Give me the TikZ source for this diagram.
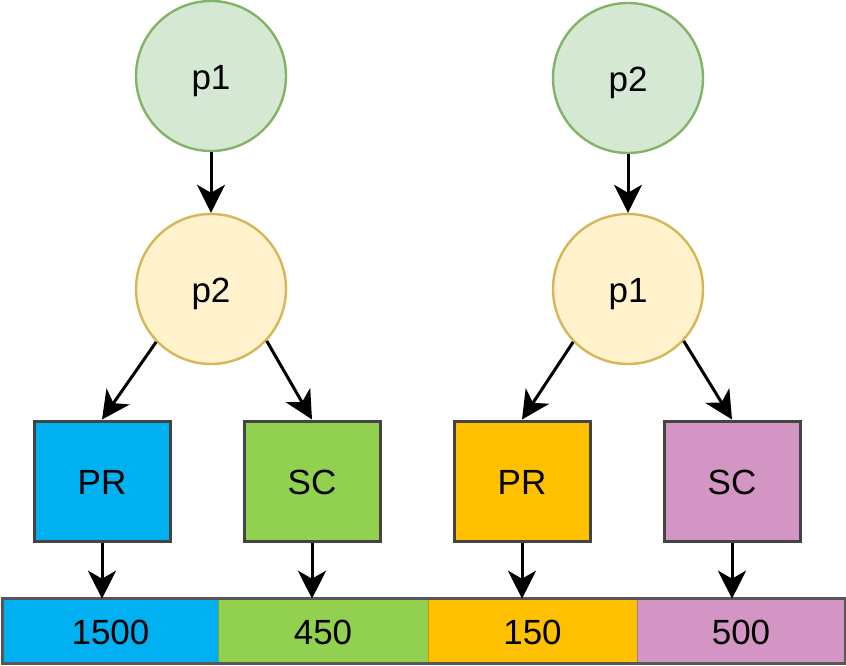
\documentclass[tikz,border=0pt]{standalone}
\usepackage{fontspec}
\setmainfont{Liberation Sans}
\usetikzlibrary{arrows.meta}
\definecolor{gfill}{HTML}{D5E8D4}
\definecolor{gline}{HTML}{82B366}
\definecolor{yfill}{HTML}{FFF2CC}
\definecolor{yline}{HTML}{D6B656}
\definecolor{cblue}{HTML}{00B0F0}
\definecolor{cgreen}{HTML}{92D050}
\definecolor{corange}{HTML}{FFC000}
\definecolor{cpink}{HTML}{D396C4}
\definecolor{edge}{HTML}{444444}
\begin{document}
\begin{tikzpicture}[x=1pt,y=-1pt,
  every node/.style={font=\fontsize{35}{40}\selectfont,text height=27pt,text depth=0pt},
  topnode/.style={circle,draw=gline,fill=gfill,line width=2.4pt,minimum size=150pt,inner sep=0pt},
  midnode/.style={circle,draw=yline,fill=yfill,line width=2.4pt,minimum size=150pt,inner sep=0pt},
  leafbox/.style={rectangle,draw=edge,line width=3pt,minimum width=136pt,minimum height=120pt,inner sep=0pt},
  barseg/.style={rectangle,minimum height=64pt,inner sep=0pt,draw=#1!80!black,line width=0.6pt,fill=#1},
  arr/.style={-{Stealth[length=28pt,width=28pt,inset=8pt]},line width=3pt,black}
]
\useasboundingbox (0,0) rectangle (846,666);

% left tree
\node[topnode] (la) at (211,76) {p1};
\node[midnode] (lb) at (211,289) {p2};
\node[leafbox,fill=cblue]  (lpr) at (102,481) {PR};
\node[leafbox,fill=cgreen] (lsc) at (312,481) {SC};

% right tree
\node[topnode] (ra) at (628,78) {p2};
\node[midnode] (rb) at (628,289) {p1};
\node[leafbox,fill=corange] (rpr) at (522,481) {PR};
\node[leafbox,fill=cpink]   (rsc) at (732,481) {SC};

% result bar
\node[barseg=cblue,  minimum width=215pt] (s1) at (110.5,631) {1500};
\node[barseg=cgreen, minimum width=210pt] (s2) at (323,631) {450};
\node[barseg=corange,minimum width=209pt] (s3) at (532.5,631) {150};
\node[barseg=cpink,  minimum width=208pt] (s4) at (741,631) {500};
\draw[edge!90,line width=2.5pt] (s1.north west) rectangle (s4.south east);

% connectors
\draw[arr] (la.south) -- (lb.north);
\draw[arr] (lb.-136) -- (lpr.north);
\draw[arr] (lb.-43) -- (lsc.north);
\draw[arr] (lpr.south) -- (lpr.south |- s1.north);
\draw[arr] (lsc.south) -- (lsc.south |- s2.north);

\draw[arr] (ra.south) -- (rb.north);
\draw[arr] (rb.-136) -- (rpr.north);
\draw[arr] (rb.-43) -- (rsc.north);
\draw[arr] (rpr.south) -- (rpr.south |- s3.north);
\draw[arr] (rsc.south) -- (rsc.south |- s4.north);
\end{tikzpicture}
\end{document}
